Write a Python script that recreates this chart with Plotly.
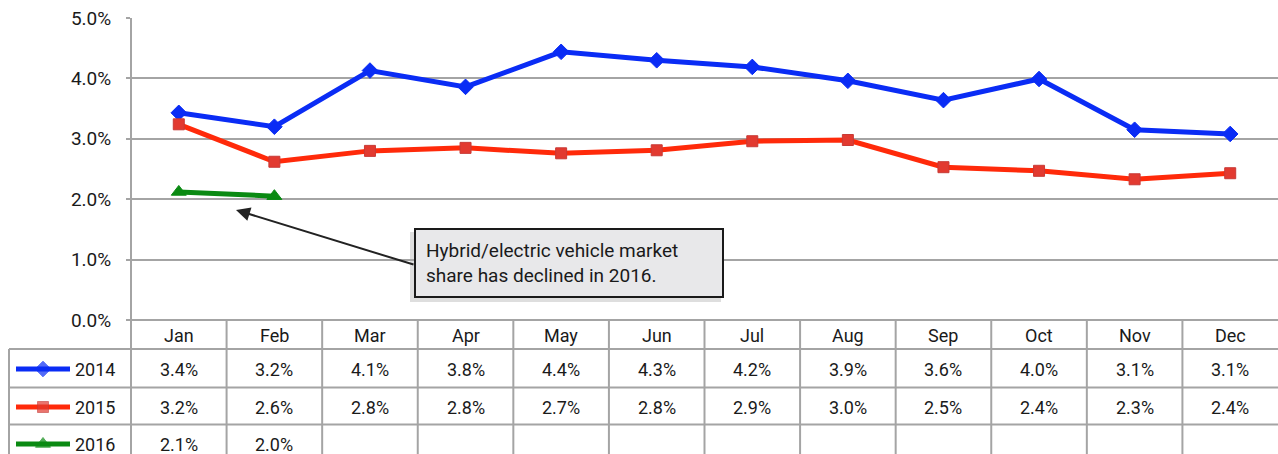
import plotly.graph_objects as go

W, H = 1278, 454

months = ["Jan", "Feb", "Mar", "Apr", "May", "Jun", "Jul", "Aug", "Sep", "Oct", "Nov", "Dec"]
years = ["2014", "2015", "2016"]

share_2014 = [3.43, 3.20, 4.13, 3.86, 4.44, 4.30, 4.19, 3.96, 3.64, 3.99, 3.15, 3.08]
share_2015 = [3.24, 2.62, 2.80, 2.85, 2.76, 2.81, 2.96, 2.98, 2.53, 2.47, 2.33, 2.43]
share_2016 = [2.12, 2.05]

label_2014 = ["3.4%", "3.2%", "4.1%", "3.8%", "4.4%", "4.3%", "4.2%", "3.9%", "3.6%", "4.0%", "3.1%", "3.1%"]
label_2015 = ["3.2%", "2.6%", "2.8%", "2.8%", "2.7%", "2.8%", "2.9%", "3.0%", "2.5%", "2.4%", "2.3%", "2.4%"]
label_2016 = ["2.1%", "2.0%"]

y_ticks = [0, 1, 2, 3, 4, 5]
y_ticktext = ["0.0%", "1.0%", "2.0%", "3.0%", "4.0%", "5.0%"]
note_text = "Hybrid/electric vehicle market<br>share has declined in 2016."

FONT = "Roboto, Liberation Sans, Arial, sans-serif"
GRID = "#a4a4a4"
TXT = "#1a1a1a"

series = [
    (years[0], share_2014, label_2014, "#0a2cf5", "diamond", 12),
    (years[1], share_2015, label_2015, "#ff2a0a", "square", 11),
    (years[2], share_2016, label_2016, "#0a8a12", "triangle-up", 13),
]

# pixel layout helpers
PL, PR, PT, PB = 131, 1278, 18, 320
def px(x):
    return x / W
def py(y):
    return (H - y) / H

fig = go.Figure()

for name, vals, _, color, sym, ms in series:
    mcol = "#e23a30" if sym == "square" else color
    fig.add_trace(go.Scatter(
        x=list(range(len(vals))), y=vals, mode="lines+markers", name=name,
        line=dict(color=color, width=5),
        marker=dict(symbol=sym, size=ms, color=mcol,
                    line=dict(color="#c83a36" if sym == "square" else color, width=1)),
        showlegend=False, cliponaxis=False,
    ))

# legend glyphs in the table's left column (overlay pixel axis)
row_y = [369, 407, 444]
for (name, vals, _, color, sym, ms), ry in zip(series, row_y):
    mcol = "#e23a30" if sym == "square" else color
    fig.add_trace(go.Scatter(
        x=[16, 43, 70], y=[ry, ry, ry], mode="lines+markers",
        xaxis="x2", yaxis="y2",
        line=dict(color=color, width=5),
        marker=dict(symbol=sym, size=[0, ms, 0], color=mcol,
                    line=dict(color="#c83a36" if sym == "square" else color, width=1)),
        showlegend=False, hoverinfo="skip", cliponaxis=False,
    ))

shapes = []
line_style = dict(color=GRID, width=2)
# y axis line extended through table
shapes.append(dict(type="line", xref="paper", yref="paper", x0=px(PL), x1=px(PL), y0=py(PT), y1=py(H + 2), line=line_style))
# column boundaries
colw = (PR - PL) / 12
for k in range(1, 12):
    xx = PL + k * colw
    shapes.append(dict(type="line", xref="paper", yref="paper", x0=px(xx), x1=px(xx), y0=py(PB), y1=py(H + 2), line=line_style))
# left border of legend column
shapes.append(dict(type="line", xref="paper", yref="paper", x0=px(9), x1=px(9), y0=py(349), y1=py(H + 2), line=line_style))
# horizontal table lines
shapes.append(dict(type="line", xref="paper", yref="paper", x0=px(PL), x1=1, y0=py(PB), y1=py(PB), line=line_style))
for hy in [349, 387.5, 424.5]:
    shapes.append(dict(type="line", xref="paper", yref="paper", x0=px(9), x1=1, y0=py(hy), y1=py(hy), line=line_style))

# callout shadow
shapes.append(dict(type="rect", xref="paper", yref="paper", x0=px(410), x1=px(721), y0=py(232), y1=py(302),
                   fillcolor="rgba(0,0,0,0.13)", line=dict(width=0), layer="below"))

annotations = []
# header month labels and values
for i, m in enumerate(months):
    annotations.append(dict(x=i, xref="x", y=335, yref="y2", text=m, showarrow=False,
                            font=dict(family=FONT, size=18, color=TXT), xanchor="center", yanchor="middle"))
for (name, vals, labels, color, sym, ms), ry in zip(series, row_y):
    for i, t in enumerate(labels):
        annotations.append(dict(x=i, xref="x", y=ry, yref="y2", text=t, showarrow=False,
                                font=dict(family=FONT, size=18, color=TXT), xanchor="center", yanchor="middle"))
    annotations.append(dict(x=73, xref="x2", y=ry, yref="y2", text=name, showarrow=False,
                            font=dict(family=FONT, size=18, color=TXT), xanchor="left", yanchor="middle"))

# arrow
annotations.append(dict(x=236, y=210, xref="x2", yref="y2",
                        ax=415, ay=265, axref="x2", ayref="y2",
                        text="", showarrow=True, arrowhead=2, arrowsize=1.4, arrowwidth=2, arrowcolor="#222222"))
# callout box
annotations.append(dict(x=414, y=228, xref="x2", yref="y2", xanchor="left", yanchor="top",
                        text=note_text, showarrow=False, align="left",
                        font=dict(family=FONT, size=19, color=TXT),
                        bgcolor="#e8e8ea", bordercolor="#1a1a1a", borderwidth=2, borderpad=10,
                        width=286, height=46))

fig.update_layout(
    width=W, height=H,
    margin=dict(l=0, r=0, t=0, b=0),
    plot_bgcolor="rgba(0,0,0,0)", paper_bgcolor="white",
    font=dict(family=FONT, size=18, color=TXT),
    xaxis=dict(domain=[px(PL), 1], range=[-0.5, 11.5], showgrid=False, showticklabels=False,
               zeroline=False, showline=False, ticks=""),
    yaxis=dict(domain=[py(PB), py(PT)], range=[0, 5], tickvals=y_ticks, ticktext=y_ticktext,
               showgrid=True, gridcolor=GRID, gridwidth=2, zeroline=False, showline=False,
               ticks="outside", ticklen=4, tickcolor=GRID, tickwidth=2, ticklabelstandoff=11,
               automargin=False,
               tickfont=dict(family=FONT, size=19, color=TXT)),
    xaxis2=dict(domain=[0, 1], range=[0, W], visible=False, anchor="y2", fixedrange=True, automargin=False),
    yaxis2=dict(domain=[0, 1], range=[H, 0], visible=False, anchor="x2", fixedrange=True, automargin=False),
    shapes=shapes, annotations=annotations,
)

fig.write_html("out.html", config={"displayModeBar": False},
               post_script="document.body.style.margin='0';document.body.style.overflow='hidden';")
